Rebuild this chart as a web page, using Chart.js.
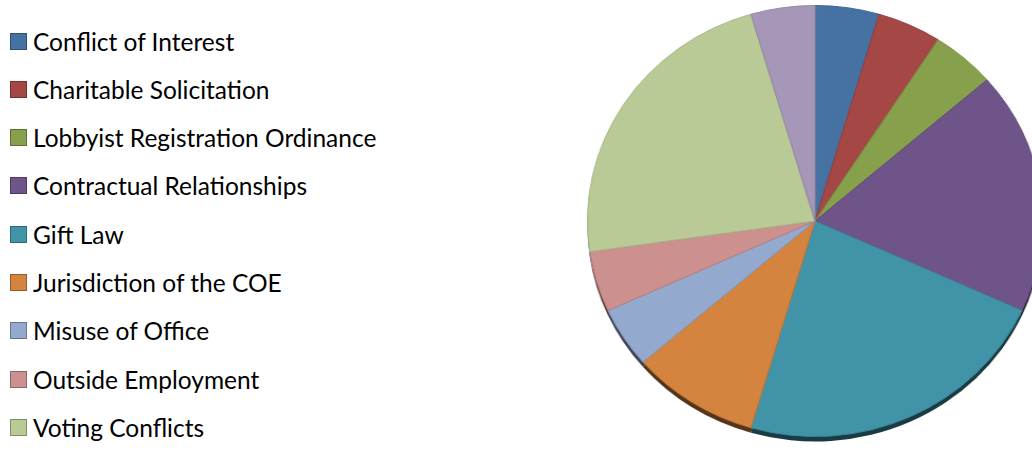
<!DOCTYPE html>
<html>
<head>
<meta charset="utf-8">
<script src="https://cdn.jsdelivr.net/npm/chart.js@4.4.1/dist/chart.umd.min.js"></script>
<style>
  html, body { margin: 0; padding: 0; background: #fff; width: 1032px; height: 451px; overflow: hidden; }
  #legend { position: absolute; left: 0; top: 0; font-family: Lato, "Open Sans", sans-serif; font-size: 24.5px; color: #000; }
  .item { position: absolute; left: 10px; white-space: nowrap; display: flex; align-items: center; height: 26px; }
  .box { width: 15px; height: 15px; border: 1px solid; margin-right: 6px; box-sizing: content-box; }
  #wrap { position: absolute; left: 585px; top: 0; width: 460px; height: 451px; transform: scaleX(1.056); transform-origin: 230px 0; }
</style>
</head>
<body>
<div id="legend"></div>
<div id="wrap"><canvas id="pie"></canvas></div>
<script>
const categories = [
  "Conflict of Interest",
  "Charitable Solicitation",
  "Lobbyist Registration Ordinance",
  "Contractual Relationships",
  "Gift Law",
  "Jurisdiction of the COE",
  "Misuse of Office",
  "Outside Employment",
  "Voting Conflicts",
  "Other"
];
const counts = [1, 1, 1, 4, 5, 2, 1, 1, 5, 1];
const colors = ["#4671a3", "#a54745", "#86a04b", "#6e5489", "#4194a7", "#d5843f", "#93a9cd", "#cc908e", "#b9ca97", "#a697b8"];

function darken(hex, f) {
  const n = parseInt(hex.slice(1), 16);
  const r = Math.round(((n >> 16) & 255) * f);
  const g = Math.round(((n >> 8) & 255) * f);
  const b = Math.round((n & 255) * f);
  return `rgb(${r},${g},${b})`;
}

// html legend, one row every 48px
const legend = document.getElementById("legend");
categories.forEach((name, i) => {
  const item = document.createElement("div");
  item.className = "item";
  item.style.top = (28 + i * 48.3) + "px";
  const box = document.createElement("span");
  box.className = "box";
  box.style.background = colors[i];
  box.style.borderColor = darken(colors[i], 0.7);
  const txt = document.createElement("span");
  txt.textContent = name;
  item.appendChild(box);
  item.appendChild(txt);
  legend.appendChild(item);
});

// darker copy of each slice, pushed down a little, for the 3d rim
const rimShadow = {
  id: "rimShadow",
  beforeDatasetsDraw(chart) {
    const ctx = chart.ctx;
    const meta = chart.getDatasetMeta(0);
    ctx.save();
    meta.data.forEach((arc, i) => {
      const p = arc.getProps(["x", "y", "startAngle", "endAngle", "outerRadius"], true);
      ctx.beginPath();
      ctx.moveTo(p.x, p.y + 5);
      ctx.arc(p.x, p.y + 5, p.outerRadius, p.startAngle, p.endAngle);
      ctx.closePath();
      ctx.fillStyle = darken(colors[i], 0.4);
      ctx.fill();
    });
    ctx.restore();
  }
};

new Chart(document.getElementById("pie"), {
  type: "pie",
  data: {
    labels: categories,
    datasets: [{
      data: counts,
      backgroundColor: colors,
      borderColor: colors.map(c => darken(c, 0.9)),
      borderWidth: 1
    }]
  },
  options: {
    responsive: true,
    maintainAspectRatio: false,
    animation: false,
    layout: { padding: { top: 5, bottom: 14, left: 0, right: 0 } },
    plugins: {
      legend: { display: false },
      tooltip: { enabled: false }
    }
  },
  plugins: [rimShadow]
});
</script>
</body>
</html>
